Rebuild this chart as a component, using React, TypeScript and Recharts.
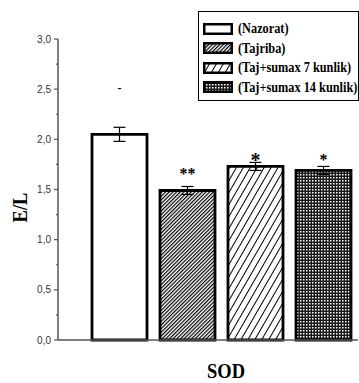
import React from 'react';
import { BarChart, Bar, XAxis, YAxis, ErrorBar, LabelList, Legend, Label } from 'recharts';

// ---- data ----
const categories = ['SOD'];
const groups = ['Nazorat', 'Tajriba', 'Taj+sumax 7 kunlik', 'Taj+sumax 14 kunlik'];
const means = [2.05, 1.49, 1.73, 1.69];
const errors = [0.07, 0.04, 0.04, 0.04];
const marks = ['-', '**', '*', '*'];
const markLevels = [2.5, 1.69, 1.83, 1.83];
const yTicks = [0, 0.25, 0.5, 0.75, 1, 1.25, 1.5, 1.75, 2, 2.25, 2.5, 2.75, 3];
const yTickLabels = ['0,0', '', '0,5', '', '1,0', '', '1,5', '', '2,0', '', '2,5', '', '3,0'];
const yLabel = 'E/L';

// ---- styles ----
const fills = ['#ffffff', 'url(#pTaj)', 'url(#pT7)', 'url(#pT14)'];
const markSizes = [12, 16, 20, 16];
const SERIF = '"Liberation Serif", "Times New Roman", serif';
const SANS = '"Liberation Sans", Arial, sans-serif';

const data = categories.map((c) => {
  const row: Record<string, any> = { name: c };
  groups.forEach((_, i) => {
    row[`s${i}`] = means[i];
    row[`e${i}`] = errors[i];
  });
  return row;
});

const Patterns = () => (
  <svg width={0} height={0} style={{ position: 'absolute' }}>
    <defs>
      <pattern id="pTaj" width={2.6} height={2.6} patternUnits="userSpaceOnUse" patternTransform="rotate(45)">
        <rect width={2.6} height={2.6} fill="#fff" />
        <rect width={1.2} height={2.6} fill="#000" />
      </pattern>
      <pattern id="pT7" width={6} height={6} patternUnits="userSpaceOnUse" patternTransform="rotate(30)">
        <rect width={6} height={6} fill="#fff" />
        <rect width={1} height={6} fill="#000" />
      </pattern>
      <pattern id="pT14" width={3} height={3} patternUnits="userSpaceOnUse">
        <rect width={3} height={3} fill="#1a1a1a" />
        <rect width={1.5} height={1.5} fill="#fff" />
      </pattern>
    </defs>
  </svg>
);

const YTick = (props: any) => {
  const { x, y, index } = props;
  const label = yTickLabels[index] ?? '';
  const major = label !== '';
  const axisX = x + 7;
  return (
    <g>
      <line x1={axisX - (major ? 4 : 2)} x2={axisX} y1={y} y2={y} stroke="#555" strokeWidth={1.2} />
      {major && (
        <text x={x} y={y} dy="0.35em" textAnchor="end" fontFamily={SANS} fontSize={10} fill="#333">
          {label}
        </text>
      )}
    </g>
  );
};

const XTick = (props: any) => {
  const { x, y, payload } = props;
  return (
    <text
      transform={`translate(${x + 5},${y + 38}) scale(0.84,1)`}
      textAnchor="middle"
      fontFamily={SERIF}
      fontWeight="bold"
      fontSize={22}
      fill="#000"
    >
      {payload.value}
    </text>
  );
};

const YLabelContent = (props: any) => {
  const vb = props.viewBox || {};
  const cx = (vb.x ?? 0) + 27;
  const cy = (vb.y ?? 0) + (vb.height ?? 0) / 2 + 18;
  return (
    <text
      transform={`translate(${cx},${cy}) rotate(-90) scale(0.88,1)`}
      textAnchor="middle"
      fontFamily={SERIF}
      fontWeight="bold"
      fontSize={21}
      fill="#000"
    >
      {yLabel}
    </text>
  );
};

const renderMark = (i: number) => (props: any) => {
  const { x, y, width, height } = props;
  const v = Number(props.value) || means[i];
  const ppu = Number(height) / v;
  const cy = Number(y) + Number(height) - markLevels[i] * ppu;
  const size = markSizes[i];
  const isDash = marks[i] === '-';
  const baseline = cy + (isDash ? 0.25 : 0.55) * size;
  return (
    <text
      x={Number(x) + Number(width) / 2}
      y={baseline}
      textAnchor="middle"
      fontFamily={SERIF}
      fontWeight="bold"
      fontSize={size}
      fill="#000"
    >
      {marks[i]}
    </text>
  );
};

const LegendBox = () => (
  <div
    style={{
      border: '1px solid #000',
      boxSizing: 'border-box',
      width: 161,
      height: 90,
      background: '#fff',
      padding: '7px 0 0 4px',
    }}
  >
    {groups.map((g, i) => (
      <div key={g} style={{ height: 19.5, display: 'flex', alignItems: 'center' }}>
        <svg width={30} height={12} style={{ flex: 'none' }}>
          <rect x={1.25} y={1.25} width={27.5} height={9.5} fill={fills[i]} stroke="#000" strokeWidth={2.5} />
        </svg>
        <span
          style={{
            marginLeft: 5,
            fontFamily: SERIF,
            fontWeight: 'bold',
            fontSize: 15,
            lineHeight: 1,
            whiteSpace: 'nowrap',
            display: 'inline-block',
            transform: 'scaleX(0.82)',
            transformOrigin: 'left center',
            color: '#000',
          }}
        >
          ({g})
        </span>
      </div>
    ))}
  </div>
);

export default function App() {
  return (
    <div style={{ position: 'absolute', left: 0, top: 0, width: 359, height: 383, background: '#fff' }}>
      <Patterns />
      <BarChart
        width={359}
        height={383}
        data={data}
        margin={{ top: 39, right: 1, left: 0, bottom: 0 }}
        barGap={13}
      >
        <XAxis
          dataKey="name"
          height={43}
          padding={{ left: 26, right: 0 }}
          axisLine={{ stroke: '#555', strokeWidth: 1.5 }}
          tickLine={false}
          tickSize={0}
          tickMargin={0}
          tick={<XTick />}
        />
        <YAxis
          width={58}
          domain={[0, 3]}
          ticks={yTicks}
          interval={0}
          axisLine={{ stroke: '#555', strokeWidth: 1.5 }}
          tickLine={false}
          tickSize={4}
          tickMargin={3}
          tick={<YTick />}
        >
          <Label content={<YLabelContent />} />
        </YAxis>
        <Legend
          layout="horizontal"
          verticalAlign="middle"
          align="center"
          wrapperStyle={{ left: 198, top: 11, width: 161, height: 90 }}
          content={() => <LegendBox />}
        />
        {groups.map((g, i) => (
          <Bar
            key={g}
            name={g}
            dataKey={`s${i}`}
            fill={fills[i]}
            stroke="#000"
            strokeWidth={2.8}
            barSize={55}
            isAnimationActive={false}
          >
            <ErrorBar dataKey={`e${i}`} width={6} stroke="#000" strokeWidth={1.2} direction="y" />
            <LabelList dataKey={`s${i}`} content={renderMark(i)} />
          </Bar>
        ))}
      </BarChart>
    </div>
  );
}
